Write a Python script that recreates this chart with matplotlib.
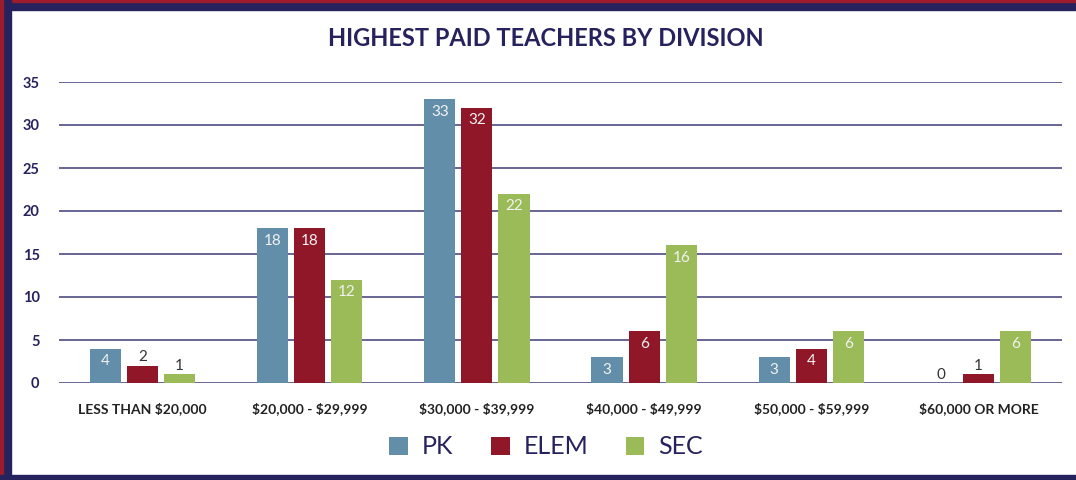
import matplotlib
matplotlib.use("Agg")
import matplotlib.pyplot as plt
from matplotlib.patches import Rectangle
import numpy as np

categories = ["LESS THAN $20,000", "$20,000 - $29,999", "$30,000 - $39,999",
              "$40,000 - $49,999", "$50,000 - $59,999", "$60,000 OR MORE"]
pk = [4, 18, 33, 3, 3, 0]
elem = [2, 18, 32, 6, 4, 1]
sec = [1, 12, 22, 16, 6, 6]
series_names = ["PK", "ELEM", "SEC"]
yticks = [0, 5, 10, 15, 20, 25, 30, 35]
title = "HIGHEST PAID TEACHERS BY DIVISION"

NAVY = "#25225e"
RED = "#8f1728"
BLUE = "#628ea9"
GREEN = "#9bbb59"
BRED = "#9c1c2c"
colors = [BLUE, RED, GREEN]

plt.rcParams['font.family'] = ['Lato', 'DejaVu Sans']

fig = plt.figure(figsize=(10.76, 4.8), dpi=100)
W, H = 1076, 480

# border
def px_rect(x0, y0, x1, y1, c):
    fig.patches.append(Rectangle((x0 / W, 1 - y1 / H), (x1 - x0) / W, (y1 - y0) / H,
                                 transform=fig.transFigure, color=c, zorder=0))
px_rect(0, 0, W, 10, NAVY)
px_rect(0, 0, W, 2, BRED)
px_rect(0, 0, 11, H, NAVY)
px_rect(0, 0, 3, H, BRED)
px_rect(0, 475, W, H, NAVY)

ax = fig.add_axes([59 / W, 1 - 383 / H, (1062 - 59) / W, (383 - 82) / H])
ax.set_facecolor("none")
x = np.arange(len(categories))
bw = 0.186
off = 0.222
for i, (vals, c, name) in enumerate(zip([pk, elem, sec], colors, series_names)):
    xs = x + (i - 1) * off
    bars = ax.bar(xs, vals, width=bw, color=c, zorder=3, label=name)
    for xx, v in zip(xs, vals):
        if v >= 3:
            ax.annotate(str(v), (xx, v), xytext=(0, -4), textcoords="offset points",
                        ha="center", va="top", fontsize=11, color="#f2f2f2", zorder=4)
        else:
            ax.annotate(str(v), (xx, v), xytext=(0, 1), textcoords="offset points",
                        ha="center", va="bottom", fontsize=11, color="#333333", zorder=4)

ax.set_xlim(-0.5, len(categories) - 0.5)
ax.set_ylim(0, 35)
ax.set_yticks(yticks)
ax.set_yticklabels([str(t) for t in yticks], fontsize=10.5, fontweight="bold", color=NAVY)
ax.set_xticks(x)
ax.set_xticklabels(categories, fontsize=10, fontweight="bold", color="#222222",
                   parse_math=False)
ax.tick_params(axis="both", length=0)
ax.tick_params(axis="y", pad=14)
ax.tick_params(axis="x", pad=14)
for s in ax.spines.values():
    s.set_visible(False)
ax.yaxis.grid(True, color="#5c5a8c", linewidth=1.3, zorder=0)
ax.set_axisbelow(True)

fig.text(546 / W, 1 - 38 / H, title, ha="center", va="center", fontsize=17,
         fontweight="bold", color=NAVY)

leg = fig.legend(loc="center", bbox_to_anchor=(546 / W, 1 - 447 / H), ncol=3, frameon=False,
                 fontsize=18, handlelength=0.75, handleheight=0.75, handletextpad=0.55,
                 columnspacing=1.5)
for t in leg.get_texts():
    t.set_color(NAVY)

fig.savefig("out.png", dpi=100)
